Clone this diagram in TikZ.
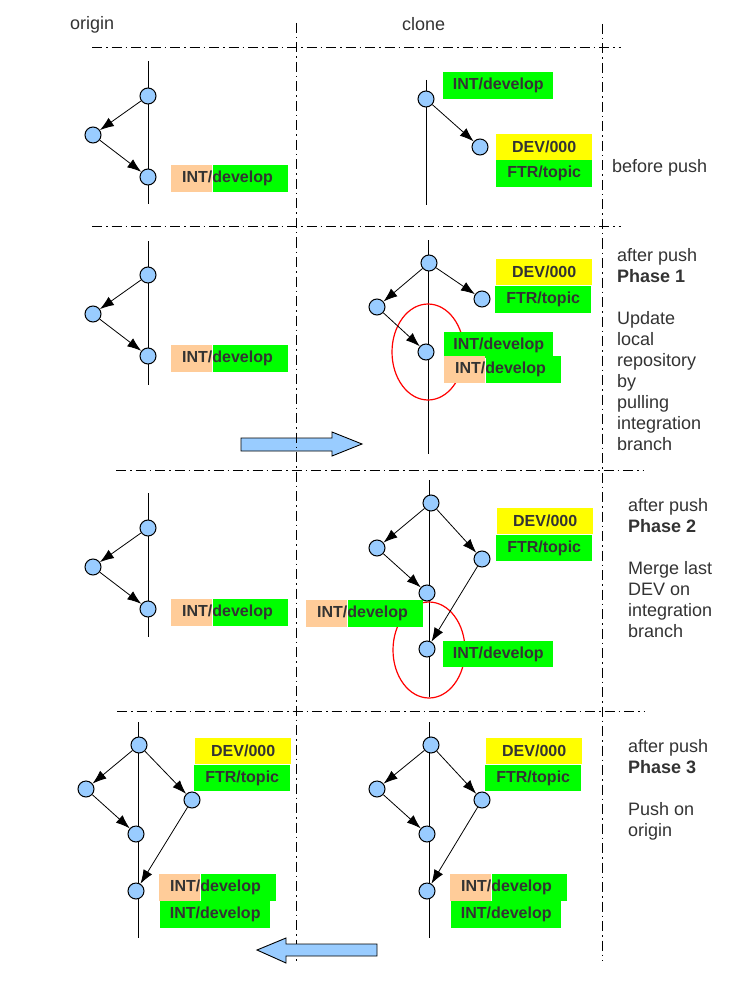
\documentclass[tikz,border=0pt]{standalone}
\usepackage{fontspec}
\setmainfont{Liberation Sans}
\usetikzlibrary{arrows.meta}

\definecolor{commitblue}{HTML}{99CCFF}
\definecolor{tagorange}{HTML}{FFCC99}
\definecolor{tagyellow}{HTML}{FFFF00}
\definecolor{taggreen}{HTML}{00FF00}
\definecolor{ink}{HTML}{333333}

\tikzset{
  commit/.style={circle, draw=black, fill=commitblue, line width=1pt,
    minimum size=16pt, inner sep=0pt},
  history/.style={line width=0.9pt},
  arr/.style={line width=0.8pt, -{Latex[length=14pt,width=10pt]}},
  sepline/.style={line width=0.9pt, dash pattern=on 10pt off 4pt on 1.5pt off 4pt},
  tag/.style={inner sep=0pt, minimum height=27pt, anchor=north west, text=ink,
    font=\fontsize{16pt}{19pt}\selectfont\bfseries},
  tagtext/.style={inner sep=0pt, anchor=west, text=ink,
    font=\fontsize{16pt}{19pt}\selectfont\bfseries},
  note/.style={inner sep=0pt, anchor=base west, text=ink,
    font=\fontsize{18pt}{21pt}\selectfont},
  merged/.style={draw=red, line width=1.2pt},
  bigarrow/.style={draw=black, fill=commitblue, line width=0.9pt, line join=miter},
}

% INT/develop tag with an orange "INT/" part and a green "develop" part
\newcommand\mixtag[3]{%
  \node[tag, fill=tagorange, minimum width=41pt] (#1o) at (#2,#3) {};
  \node[tag, fill=taggreen, minimum width=75pt] (#1g) at (#1o.north east) {};
  \node[tagtext] (#1t) at ([xshift=11pt]#1o.west) {INT/develop};
}

\begin{document}
\begin{tikzpicture}[x=1pt, y=-1pt]
\useasboundingbox (0,0) rectangle (751,1000);

% pull arrow, crossed by the column separator
\draw[bigarrow] (241,438) -- (332,438) -- (332,432) -- (362,444) -- (332,456)
  -- (332,451) -- (241,451) -- cycle;

% column and row separators
\draw[sepline] (296,23) -- (296,961);
\draw[sepline] (602,24) -- (602,961);
\draw[sepline] (92,47) -- (621,47);
\draw[sepline] (92,226) -- (621,226);
\draw[sepline] (116,470) -- (644,470);
\draw[sepline] (117,711) -- (645,711);

% headers
\node[note] (horigin) at (70,30) {origin};
\node[note] (hclone) at (402,31) {clone};

% ---------- before push ----------
\draw[history] (148,61) -- (148,204);
\mixtag{ta}{171}{165}
\node[commit] (o1a) at (148,96) {};
\node[commit] (o1b) at (93,135) {};
\node[commit] (o1c) at (148,177) {};
\draw[arr] (o1a) -- (o1b);
\draw[arr] (o1b) -- (o1c);

\draw[history] (426,80) -- (426,205);
\node[tag, fill=taggreen, minimum width=110pt] (t1int) at (443,72) {INT/develop};
\node[tag, fill=tagyellow, minimum width=96pt, minimum height=26pt] (t1dev) at (496,134) {DEV/000};
\node[tag, fill=taggreen, minimum width=96pt] (t1ftr) at (496,160) {FTR/topic};
\node[commit] (c1a) at (426,99) {};
\node[commit] (c1b) at (480,147) {};
\draw[arr] (c1a) -- (c1b);

\node[note] (n0) at (612,173) {before push};

% ---------- Phase 1 ----------
\draw[history] (148,241) -- (148,385);
\mixtag{tb}{171}{345}
\node[commit] (o2a) at (148,275) {};
\node[commit] (o2b) at (93,314) {};
\node[commit] (o2c) at (148,356) {};
\draw[arr] (o2a) -- (o2b);
\draw[arr] (o2b) -- (o2c);

\draw[history] (428,240) -- (428,454);
\draw[merged] (428,352) ellipse [x radius=36, y radius=48];
\node[tag, fill=tagyellow, minimum width=96pt, minimum height=26pt] (t2dev) at (496,259) {DEV/000};
\node[tag, fill=taggreen, minimum width=96pt] (t2ftr) at (495,286) {FTR/topic};
\node[tag, fill=taggreen, minimum width=109pt, minimum height=26pt] (t2int) at (444,332) {INT/develop};
\mixtag{tc}{444}{356}
\node[commit] (c2a) at (429,263) {};
\node[commit] (c2b) at (377,307) {};
\node[commit] (c2c) at (482,299) {};
\node[commit] (c2d) at (426,352) {};
\draw[arr] (c2a) -- (c2b);
\draw[arr] (c2a) -- (c2c);
\draw[arr] (c2b) -- (c2d);

\node[note] (n1) at (617,261) {\begin{tabular}[t]{@{}l@{}}after push\\
  \textbf{Phase 1}\\ \\ Update\\ local\\ repository\\ by\\ pulling\\
  integration\\ branch\end{tabular}};

% ---------- Phase 2 ----------
\draw[history] (148,493) -- (148,637);
\mixtag{td}{171}{599}
\node[commit] (o3a) at (148,528) {};
\node[commit] (o3b) at (93,567) {};
\node[commit] (o3c) at (148,609) {};
\draw[arr] (o3a) -- (o3b);
\draw[arr] (o3b) -- (o3c);

\draw[history] (429,480) -- (429,697);
\draw[merged] (429,650) ellipse [x radius=36, y radius=48];
\node[tag, fill=tagyellow, minimum width=96pt, minimum height=26pt] (t3dev) at (497,508) {DEV/000};
\node[tag, fill=taggreen, minimum width=96pt, minimum height=26pt] (t3ftr) at (496,535) {FTR/topic};
\mixtag{te}{306}{600}
\node[tag, fill=taggreen, minimum width=110pt, minimum height=26pt] (t3int) at (443,641) {INT/develop};
\node[commit] (c3a) at (431,503) {};
\node[commit] (c3b) at (377,548) {};
\node[commit] (c3c) at (482,559) {};
\node[commit] (c3d) at (427,593) {};
\node[commit] (c3e) at (427,649) {};
\draw[arr] (c3a) -- (c3b);
\draw[arr] (c3a) -- (c3c);
\draw[arr] (c3b) -- (c3d);
\draw[arr] (c3c) -- (c3e);

\node[note] (n2) at (628,511) {\begin{tabular}[t]{@{}l@{}}after push\\
  \textbf{Phase 2}\\ \\ Merge last\\ DEV on\\ integration\\ branch\end{tabular}};

% ---------- Phase 3 ----------
\draw[history] (138,722) -- (138,938);
\node[tag, fill=tagyellow, minimum width=96pt, minimum height=26pt] (t4dev) at (195,738) {DEV/000};
\node[tag, fill=taggreen, minimum width=96pt, minimum height=26pt] (t4ftr) at (194,765) {FTR/topic};
\mixtag{tf}{159}{874}
\node[tag, fill=taggreen, minimum width=110pt] (t4int) at (160,901) {INT/develop};
\node[commit] (o4a) at (139,745) {};
\node[commit] (o4b) at (86,789) {};
\node[commit] (o4c) at (192,800) {};
\node[commit] (o4d) at (136,834) {};
\node[commit] (o4e) at (136,891) {};
\draw[arr] (o4a) -- (o4b);
\draw[arr] (o4a) -- (o4c);
\draw[arr] (o4b) -- (o4d);
\draw[arr] (o4c) -- (o4e);

\draw[history] (429,722) -- (429,938);
\node[tag, fill=tagyellow, minimum width=96pt, minimum height=26pt] (t5dev) at (486,738) {DEV/000};
\node[tag, fill=taggreen, minimum width=96pt, minimum height=26pt] (t5ftr) at (485,765) {FTR/topic};
\mixtag{tg}{450}{874}
\node[tag, fill=taggreen, minimum width=110pt] (t5int) at (451,901) {INT/develop};
\node[commit] (c4a) at (431,745) {};
\node[commit] (c4b) at (377,789) {};
\node[commit] (c4c) at (482,800) {};
\node[commit] (c4d) at (427,834) {};
\node[commit] (c4e) at (427,891) {};
\draw[arr] (c4a) -- (c4b);
\draw[arr] (c4a) -- (c4c);
\draw[arr] (c4b) -- (c4d);
\draw[arr] (c4c) -- (c4e);

% push arrow, drawn over the column separator
\draw[bigarrow] (377,944) -- (286,944) -- (286,938) -- (257,950) -- (286,963)
  -- (286,956) -- (377,956) -- cycle;

\node[note] (n3) at (628,752) {\begin{tabular}[t]{@{}l@{}}after push\\
  \textbf{Phase 3}\\ \\ Push on\\ origin\end{tabular}};

\end{tikzpicture}
\end{document}
